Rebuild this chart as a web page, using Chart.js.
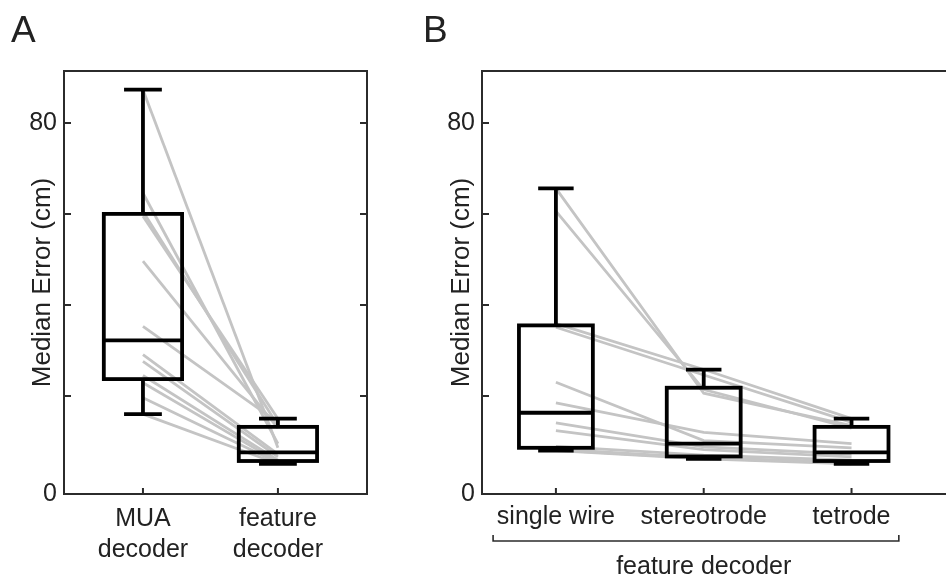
<!DOCTYPE html>
<html>
<head>
<meta charset="utf-8">
<script src="https://cdn.jsdelivr.net/npm/chart.js@4.4.0/dist/chart.umd.min.js"></script>
<style>
  html, body { margin: 0; padding: 0; background: #fff; overflow: hidden; }
  #page { position: relative; width: 946px; height: 584px; overflow: hidden; font-family: "Liberation Sans", Arial, sans-serif; color: #222; }
  .panel { position: absolute; top: 0; height: 584px; }
  #panelA { left: 0; width: 400px; }
  #panelB { left: 400px; width: 580px; }
  .letter { position: absolute; top: 11px; font-size: 37px; line-height: 1; }
</style>
</head>
<body>
<div id="page">
  <div class="panel" id="panelA"><canvas id="chartA"></canvas></div>
  <div class="panel" id="panelB"><canvas id="chartB"></canvas></div>
  <div class="letter" style="left:11px">A</div>
  <div class="letter" style="left:423px">B</div>
</div>

<script>
// per-subject median errors (cm)
const muaErr      = [87.3, 64.6, 60.5, 59.5, 49.6, 35.3, 29.1, 27.6, 24.5, 22.9, 19.6, 16.0];
const singleErr   = [23.0, 18.5, 65.6, 35.9, 60.6, 35.1, 14.1, 12.4,  8.9,  8.3,  8.1,  8.0];
const stereoErr   = [10.2, 12.0, 20.6, 25.8, 21.4, 24.6,  8.8,  8.2,  7.0,  6.4,  6.3,  6.2];
const tetrodeErr  = [ 8.6,  9.5, 13.5, 15.0, 12.9, 14.2,  7.2,  6.6,  5.9,  5.5,  5.3,  5.1];

// box plot summaries: [whisker low, Q1, median, Q3, whisker high]
const boxMua     = [16.0, 23.7, 32.2, 60.0, 87.3];
const boxSingle  = [ 8.0,  8.6, 16.3, 35.5, 65.6];
const boxStereo  = [ 6.2,  6.7,  9.5, 21.8, 25.8];
const boxTetrode = [ 5.1,  5.7,  7.6, 13.2, 15.0];

const labelsA = [["MUA", "decoder"], ["feature", "decoder"]];
const labelsB = ["single wire", "stereotrode", "tetrode"];
const groupLabelB = "feature decoder";

const yTickValues = [0, 80];
const yTickLabels = ["0", "80"];
const yTickMarks = [20, 40, 60, 80];
const yTitle = "Median Error (cm)";

Chart.defaults.font.family = "'Liberation Sans', Arial, sans-serif";
Chart.defaults.font.size = 25;
Chart.defaults.color = "#222";

const frameColor = "#2b2b2b";

function pairLines(series) {
  let out = [];
  for (let i = 0; i < series[0].length; i++) {
    out.push({
      data: series.map((s, k) => ({ x: k + 1, y: s[i] })),
      borderColor: "#c4c4c4",
      borderWidth: 2.8,
      pointRadius: 0,
      fill: false,
      tension: 0,
    });
  }
  return out;
}

const boxPlugin = {
  id: "boxes",
  afterDatasetsDraw(chart, args, opts) {
    const ctx = chart.ctx;
    const x = chart.scales.x;
    const y = chart.scales.y;
    ctx.save();
    ctx.strokeStyle = "#000";
    ctx.lineWidth = 3.8;
    ctx.lineCap = "butt";
    opts.boxes.forEach((b, i) => {
      const c = i + 1;
      const xl = x.getPixelForValue(c - opts.half);
      const xr = x.getPixelForValue(c + opts.half);
      const xc = x.getPixelForValue(c);
      const cl = x.getPixelForValue(c - opts.cap);
      const cr = x.getPixelForValue(c + opts.cap);
      const [lo, q1, med, q3, hi] = b.map((v) => y.getPixelForValue(v));
      ctx.beginPath();
      // whiskers
      ctx.moveTo(xc, q3); ctx.lineTo(xc, hi);
      ctx.moveTo(cl, hi); ctx.lineTo(cr, hi);
      ctx.moveTo(xc, q1); ctx.lineTo(xc, lo);
      ctx.moveTo(cl, lo); ctx.lineTo(cr, lo);
      // median
      ctx.moveTo(xl, med); ctx.lineTo(xr, med);
      ctx.stroke();
      ctx.strokeRect(xl, q3, xr - xl, q1 - q3);
    });
    ctx.restore();
  },
};

const framePlugin = {
  id: "frame",
  afterDraw(chart, args, opts) {
    const ctx = chart.ctx;
    const a = chart.chartArea;
    const x = chart.scales.x;
    const y = chart.scales.y;
    ctx.save();
    ctx.strokeStyle = frameColor;
    ctx.lineWidth = 2;
    ctx.strokeRect(a.left, a.top, a.right - a.left, a.bottom - a.top);
    ctx.beginPath();
    yTickMarks.forEach((v) => {
      const py = y.getPixelForValue(v);
      ctx.moveTo(a.left, py); ctx.lineTo(a.left + 7, py);
      ctx.moveTo(a.right, py); ctx.lineTo(a.right - 7, py);
    });
    opts.labels.forEach((l, i) => {
      const px = x.getPixelForValue(i + 1);
      ctx.moveTo(px, a.bottom); ctx.lineTo(px, a.bottom - 6);
    });
    ctx.stroke();

    if (opts.group) {
      const g0 = x.getPixelForValue(opts.group.span[0]);
      const g1 = x.getPixelForValue(opts.group.span[1]);
      const gy = a.bottom + 47;
      ctx.lineWidth = 1.6;
      ctx.beginPath();
      ctx.moveTo(g0, gy - 6); ctx.lineTo(g0, gy); ctx.lineTo(g1, gy); ctx.lineTo(g1, gy - 6);
      ctx.stroke();
      ctx.fillStyle = "#222";
      ctx.font = "25px 'Liberation Sans', Arial, sans-serif";
      ctx.textAlign = "center";
      ctx.textBaseline = "alphabetic";
      ctx.fillText(opts.group.text, x.getPixelForValue(2), gy + 33);
    }
    ctx.restore();
  },
};

function makePanel(canvasId, series, boxes, labels, geom) {
  const canvas = document.querySelector(canvasId);
  return new Chart(canvas, {
    type: "line",
    data: { datasets: pairLines(series) },
    options: {
      responsive: true,
      maintainAspectRatio: false,
      animation: false,
      layout: { padding: { left: 0, top: 71, right: geom.padRight, bottom: 0 } },
      plugins: {
        legend: { display: false },
        tooltip: { enabled: false },
        boxes: { boxes: boxes, half: geom.half, cap: geom.cap },
        frame: { labels: labels, group: geom.group },
      },
      scales: {
        x: {
          type: "linear",
          min: geom.xMin,
          max: geom.xMax,
          grid: { display: false, drawTicks: false },
          border: { display: false },
          afterBuildTicks: (s) => { s.ticks = labels.map((l, i) => ({ value: i + 1 })); },
          afterFit: (s) => { s.height = 90; },
          ticks: {
            autoSkip: false,
            maxRotation: 0,
            padding: geom.labelPad,
            font: { size: 25, lineHeight: 1.22 },
            callback: (v, i) => labels[i],
          },
        },
        y: {
          min: -1.55,
          max: 91.4,
          grid: { display: false, drawTicks: false },
          border: { display: false },
          afterBuildTicks: (s) => { s.ticks = yTickValues.map((v) => ({ value: v === 0 ? s.min : v })); },
          afterFit: (s) => { s.width = geom.yWidth; },
          ticks: { padding: 7, callback: (v, i) => yTickLabels[i] },
          title: {
            display: true,
            text: yTitle,
            font: { size: 26, lineHeight: 1.2 },
            padding: { top: geom.titlePad, bottom: 0 },
          },
        },
      },
    },
    plugins: [boxPlugin, framePlugin],
  });
}

window.addEventListener("load", () => {
  makePanel("#chartA", [muaErr, tetrodeErr], [boxMua, boxTetrode], labelsA, {
    xMin: 0.415, xMax: 2.66, padRight: 33, yWidth: 64, titlePad: 27,
    half: 0.29, cap: 0.14, labelPad: 10,
  });
  makePanel("#chartB", [singleErr, stereoErr, tetrodeErr], [boxSingle, boxStereo, boxTetrode], labelsB, {
    xMin: 0.5, xMax: 3.7, padRight: 25, yWidth: 82, titlePad: 46,
    half: 0.25, cap: 0.12, labelPad: 8,
    group: { span: [0.575, 3.32], text: groupLabelB },
  });
});
</script>
</body>
</html>
